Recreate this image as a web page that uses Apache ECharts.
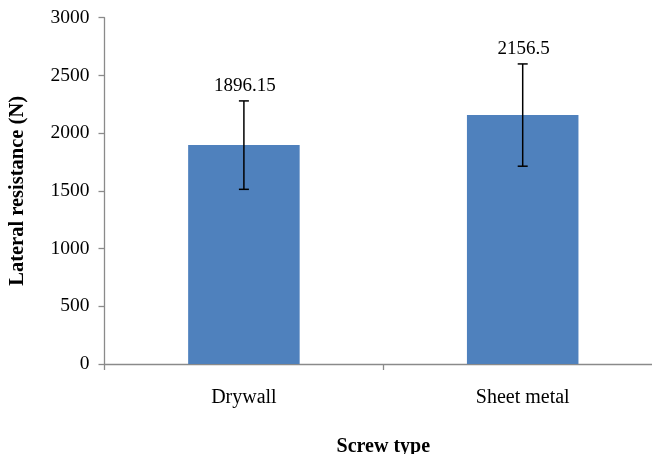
<!DOCTYPE html>
<html>
<head>
<meta charset="utf-8">
<script src="https://cdn.jsdelivr.net/npm/echarts@6/dist/echarts.min.js"></script>
<style>
html,body{margin:0;padding:0;background:#fff;}
#chart{width:652px;height:454px;}
</style>
</head>
<body>
<div id="chart"></div>
<script>
const categories = ['Drywall', 'Sheet metal'];
const means = [1896.15, 2156.5];
const errors = [383, 443];
const yTicks = [0, 500, 1000, 1500, 2000, 2500, 3000];

const FONT = '"Liberation Serif", "Times New Roman", serif';
const AXIS_COLOR = '#8a8a8a';

const errData = categories.map((c, i) => [i, means[i] + errors[i], means[i] - errors[i], means[i]]);

const chart = echarts.init(document.getElementById('chart'), null, {renderer: 'canvas'});
chart.setOption({
  animation: false,
  backgroundColor: '#ffffff',
  grid: {left: 104.5, top: 17.7, width: 557.6, height: 346.3, containLabel: false, outerBoundsMode: 'none'},
  xAxis: {
    type: 'category',
    data: categories,
    boundaryGap: true,
    name: 'Screw type',
    nameLocation: 'middle',
    nameGap: 73,
    nameTextStyle: {fontFamily: FONT, fontSize: 20, fontWeight: 'bold', color: '#000'},
    axisLine: {lineStyle: {color: AXIS_COLOR, width: 1.3}},
    axisTick: {show: true, alignWithLabel: false, length: 6, lineStyle: {color: AXIS_COLOR, width: 1.3}},
    axisLabel: {fontFamily: FONT, fontSize: 20, color: '#000', margin: 24},
    splitLine: {show: false}
  },
  yAxis: {
    type: 'value',
    min: yTicks[0],
    max: yTicks[yTicks.length - 1],
    interval: yTicks[1] - yTicks[0],
    name: 'Lateral resistance (N)',
    nameLocation: 'middle',
    nameGap: 76,
    nameRotate: 90,
    nameTextStyle: {fontFamily: FONT, fontSize: 20.5, fontWeight: 'bold', color: '#000'},
    axisLine: {show: true, lineStyle: {color: AXIS_COLOR, width: 1.3}},
    axisTick: {show: true, length: 6, lineStyle: {color: AXIS_COLOR, width: 1.3}},
    axisLabel: {fontFamily: FONT, fontSize: 19.5, color: '#000', margin: 15, formatter: v => String(v)},
    splitLine: {show: false}
  },
  series: [
    {
      type: 'bar',
      data: means,
      barWidth: '40%',
      itemStyle: {color: '#4F81BD'}
    },
    {
      type: 'custom',
      data: errData,
      z: 10,
      renderItem: function (params, api) {
        const x = api.value(0);
        const top = api.coord([x, api.value(1)]);
        const bot = api.coord([x, api.value(2)]);
        const hw = 5;
        const ls = {stroke: '#000', lineWidth: 1.5};
        return {
          type: 'group',
          children: [
            {type: 'line', shape: {x1: top[0], y1: top[1], x2: bot[0], y2: bot[1]}, style: ls},
            {type: 'line', shape: {x1: top[0] - hw, y1: top[1], x2: top[0] + hw, y2: top[1]}, style: ls},
            {type: 'line', shape: {x1: bot[0] - hw, y1: bot[1], x2: bot[0] + hw, y2: bot[1]}, style: ls},
            {type: 'text', style: {
              text: String(api.value(3)),
              x: top[0] + 1, y: top[1] - 5,
              textAlign: 'center', textVerticalAlign: 'bottom',
              font: '19px ' + FONT, fill: '#000'
            }}
          ]
        };
      }
    }
  ]
});
</script>
</body>
</html>
